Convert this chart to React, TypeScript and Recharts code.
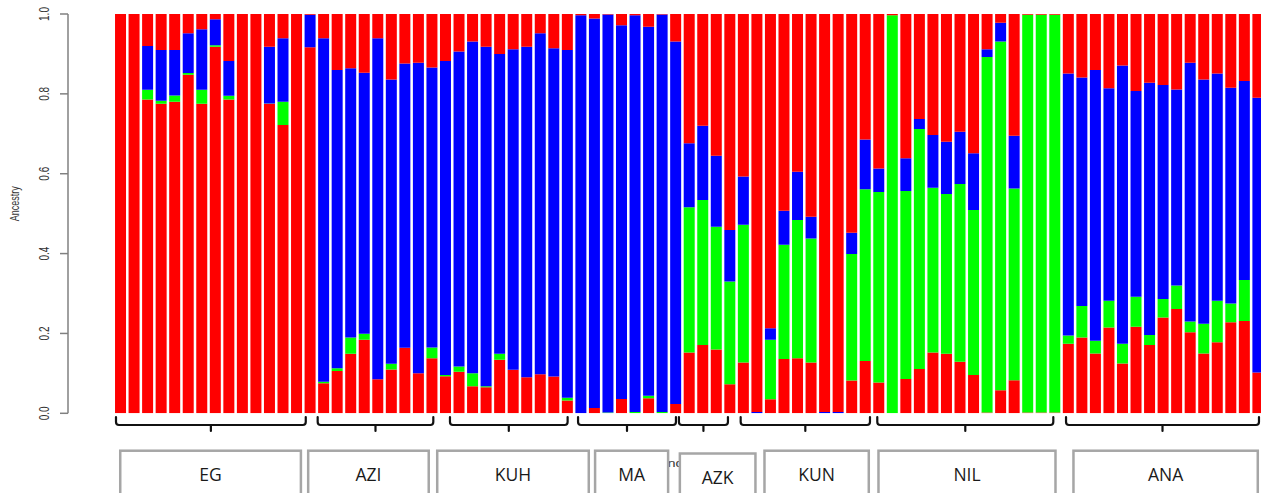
import React from 'react';
import { BarChart, Bar, XAxis, YAxis, ReferenceArea } from 'recharts';

// Ancestry proportions per individual (stacked bottom to top: red, green, blue, red)
const redLow = [
  1, 1, 0.786, 0.775, 0.78, 0.848, 0.775, 0.918, 0.786, 1, 1, 0.775, 0.722, 1, 0.917,
  0.075, 0.106, 0.149, 0.184, 0.085, 0.11, 0.164, 0.1, 0.138,
  0.093, 0.104, 0.068, 0.065, 0.134, 0.109, 0.09, 0.098, 0.092, 0.032,
  0, 0.013, 0, 0.036, 0, 0.038, 0, 0.023,
  0.152, 0.171, 0.16, 0.073, 0.127, 0, 0.035, 0.136, 0.138, 0.127, 0, 0, 0.082, 0.131, 0.077,
  0, 0.086, 0.111, 0.152, 0.149, 0.129, 0.096, 0.002, 0.058, 0.083, 0.002, 0.002, 0.002,
  0.174, 0.19, 0.15, 0.215, 0.125, 0.217, 0.171, 0.24, 0.261, 0.203, 0.15, 0.178, 0.228, 0.231, 0.102,
];
const green = [
  0, 0, 0.024, 0.008, 0.016, 0.004, 0.035, 0.004, 0.009, 0, 0, 0.001, 0.058, 0, 0,
  0.004, 0.007, 0.041, 0.015, 0, 0.014, 0, 0, 0.027,
  0.003, 0.013, 0.032, 0.003, 0.015, 0, 0, 0, 0, 0.007,
  0, 0, 0.002, 0, 0.003, 0.006, 0.003, 0,
  0.364, 0.363, 0.307, 0.257, 0.345, 0, 0.149, 0.286, 0.346, 0.311, 0, 0, 0.317, 0.43, 0.477,
  0.997, 0.471, 0.601, 0.413, 0.4, 0.445, 0.413, 0.89, 0.873, 0.48, 0.996, 0.996, 0.996,
  0.021, 0.079, 0.032, 0.067, 0.049, 0.075, 0.025, 0.046, 0.059, 0.027, 0.074, 0.104, 0.047, 0.103, 0,
];
const blue = [
  0, 0, 0.11, 0.127, 0.114, 0.1, 0.152, 0.065, 0.087, 0, 0, 0.142, 0.159, 0, 0.081,
  0.86, 0.747, 0.674, 0.654, 0.854, 0.712, 0.712, 0.778, 0.701,
  0.786, 0.789, 0.831, 0.85, 0.751, 0.803, 0.828, 0.854, 0.822, 0.871,
  0.997, 0.976, 0.997, 0.936, 0.994, 0.924, 0.996, 0.908,
  0.16, 0.186, 0.178, 0.129, 0.121, 0.003, 0.029, 0.085, 0.121, 0.054, 0.003, 0.003, 0.053, 0.125, 0.059,
  0, 0.082, 0.025, 0.132, 0.131, 0.131, 0.142, 0.02, 0.047, 0.132, 0, 0, 0,
  0.656, 0.572, 0.678, 0.532, 0.697, 0.515, 0.632, 0.536, 0.491, 0.648, 0.612, 0.569, 0.54, 0.498, 0.688,
];
const redHigh = [
  0, 0, 0.08, 0.09, 0.09, 0.048, 0.038, 0.013, 0.118, 0, 0, 0.082, 0.061, 0, 0.002,
  0.061, 0.14, 0.136, 0.147, 0.061, 0.164, 0.124, 0.122, 0.134,
  0.118, 0.094, 0.069, 0.082, 0.1, 0.088, 0.082, 0.048, 0.086, 0.09,
  0.003, 0.011, 0.001, 0.028, 0.003, 0.032, 0.001, 0.069,
  0.324, 0.28, 0.355, 0.541, 0.407, 0.997, 0.787, 0.493, 0.395, 0.508, 0.997, 0.997, 0.548, 0.314, 0.387,
  0.003, 0.361, 0.263, 0.303, 0.32, 0.295, 0.349, 0.088, 0.022, 0.305, 0.002, 0.002, 0.002,
  0.149, 0.159, 0.14, 0.186, 0.129, 0.193, 0.172, 0.178, 0.189, 0.122, 0.164, 0.149, 0.185, 0.168, 0.21,
];

const yTicks = [0, 0.2, 0.4, 0.6, 0.8, 1];

// Population groups, spans in individual (bar) units
const popLabels = ['EG', 'AZI', 'KUH', 'MA', 'AZK', 'KUN', 'NIL', 'ANA'];
const bracketStart = [0.155, 15.05, 24.82, 34.28, 41.73, 46.29, 56.38, 70.32];
const bracketEnd = [14.17, 23.59, 33.51, 41.51, 45.35, 55.84, 69.38, 84.57];
const boxStart = [0.38, 14.26, 23.79, 35.45, 41.71, 47.96, 56.38, 70.78];
const boxEnd = [13.9, 23.34, 35.16, 41.02, 47.47, 55.84, 69.63, 84.57];
const boxTop = [-0.0907, -0.0907, -0.0907, -0.0907, -0.0977, -0.0907, -0.0907, -0.0907];

const data = redLow.map((v, i) => ({
  id: String(i + 1),
  r1: v,
  g: green[i],
  b: blue[i],
  r2: redHigh[i],
}));

const N = data.length;
const PAD = { left: 45.9, right: 0 };

// span in bar units -> category band range + fractional offsets
const bandSpan = (s: number, e: number) => {
  const i0 = Math.max(0, Math.floor(s));
  const i1 = Math.min(N - 1, Math.ceil(e) - 1);
  return { i0, i1, x1: data[i0].id, x2: data[i1].id, fs: s - i0, fe: e - i0 };
};

const fracRect = (props: any, sp: any) => {
  const { x, width } = props;
  const bw = width / (sp.i1 - sp.i0 + 1);
  return { left: x + sp.fs * bw, right: x + sp.fe * bw };
};

const Bracket = (props: any) => {
  const { y, height, sp } = props;
  const { left: x1, right: x2 } = fracRect(props, sp);
  const cx = (x1 + x2) / 2;
  const mid = y + 8;
  const r = 3;
  const d = `M${x1},${y} V${mid - r} Q${x1},${mid} ${x1 + r},${mid} H${x2 - r} Q${x2},${mid} ${x2},${mid - r} V${y} M${cx},${mid} V${y + height}`;
  return <path d={d} fill="none" stroke="#111" strokeWidth={2.2} strokeLinecap="round" strokeLinejoin="round" />;
};

const LabelBox = (props: any) => {
  const { y, height, text, sp } = props;
  const { left, right } = fracRect(props, sp);
  const w = right - left;
  return (
    <g>
      <rect x={left + 1.2} y={y + 1.2} width={w - 2.4} height={height} fill="#fff" stroke="#a6a6a6" strokeWidth={2.5} />
      <text
        x={left + w / 2}
        y={y + 31.5}
        textAnchor="middle"
        fontSize={17.5}
        fill="#1a1a1a"
        fontFamily="'Open Sans', 'Noto Sans', sans-serif"
      >
        {text}
      </text>
    </g>
  );
};

const XLabel = (props: any) => {
  const { x, y, width, height } = props;
  const cx = x + width / 2 + 4;
  const by = y + height;
  return (
    <text
      transform={`translate(${cx},${by}) scale(1.4,1)`}
      textAnchor="middle"
      fontSize={10}
      fill="#333"
      fontFamily="'Liberation Sans', Arial, sans-serif"
    >
      Individual
    </text>
  );
};

const YTick = (props: any) => {
  const { x, y, payload } = props;
  return (
    <text
      transform={`translate(${x - 9},${y}) scale(1.5,1) rotate(-90)`}
      textAnchor="middle"
      fontSize={10}
      fill="#333"
      fontFamily="'Liberation Sans', Arial, sans-serif"
    >
      {Number(payload.value).toFixed(1)}
    </text>
  );
};

const YLabel = (props: any) => {
  const vb = props.viewBox || { x: 8, y: 14, width: 60, height: 399 };
  const lx = vb.x + 10.5;
  const ly = vb.y + vb.height / 2 - 10;
  return (
    <text
      transform={`translate(${lx},${ly}) scale(1.35,1) rotate(-90)`}
      textAnchor="middle"
      fontSize={9}
      fill="#333"
      fontFamily="'Liberation Sans', Arial, sans-serif"
    >
      Ancestry
    </text>
  );
};

export default function App() {
  return (
    <div
      style={{
        position: 'fixed',
        left: 0,
        top: 0,
        width: 1261,
        height: 493,
        overflow: 'hidden',
        background: '#fff',
      }}
    >
      <BarChart
        width={1266}
        height={493}
        data={data}
        margin={{ top: 14, right: 1.2, left: 8, bottom: 79.7 }}
        barCategoryGap="8.3%"
      >
        <XAxis dataKey="id" hide padding={PAD} />
        <YAxis
          domain={[0, 1]}
          ticks={yTicks}
          allowDataOverflow
          width={60}
          tickSize={8}
          tickMargin={2}
          axisLine={{ stroke: '#808080', strokeWidth: 1.5 }}
          tickLine={{ stroke: '#808080', strokeWidth: 1.5 }}
          tick={<YTick />}
          label={(p: any) => <YLabel {...p} />}
        />
        <Bar dataKey="r1" stackId="a" fill="#ff0000" isAnimationActive={false} />
        <Bar dataKey="g" stackId="a" fill="#00ff00" isAnimationActive={false} />
        <Bar dataKey="b" stackId="a" fill="#0000ff" isAnimationActive={false} />
        <Bar dataKey="r2" stackId="a" fill="#ff0000" isAnimationActive={false} />
        <ReferenceArea
          x1={data[0].id}
          x2={data[N - 1].id}
          y1={-0.12}
          y2={-0.1333}
          ifOverflow="visible"
          shape={(p: any) => <XLabel {...p} />}
        />
        {popLabels.map((lbl, i) => {
          const sp = bandSpan(bracketStart[i], bracketEnd[i]);
          return (
            <ReferenceArea
              key={'br' + lbl}
              x1={sp.x1}
              x2={sp.x2}
              y1={-0.0093}
              y2={-0.0443}
              ifOverflow="visible"
              shape={(p: any) => <Bracket {...p} sp={sp} />}
            />
          );
        })}
        {popLabels.map((lbl, i) => {
          const sp = bandSpan(boxStart[i], boxEnd[i]);
          return (
            <ReferenceArea
              key={'bx' + lbl}
              x1={sp.x1}
              x2={sp.x2}
              y1={boxTop[i]}
              y2={-0.22}
              ifOverflow="visible"
              shape={(p: any) => <LabelBox {...p} sp={sp} text={lbl} />}
            />
          );
        })}
      </BarChart>
    </div>
  );
}
